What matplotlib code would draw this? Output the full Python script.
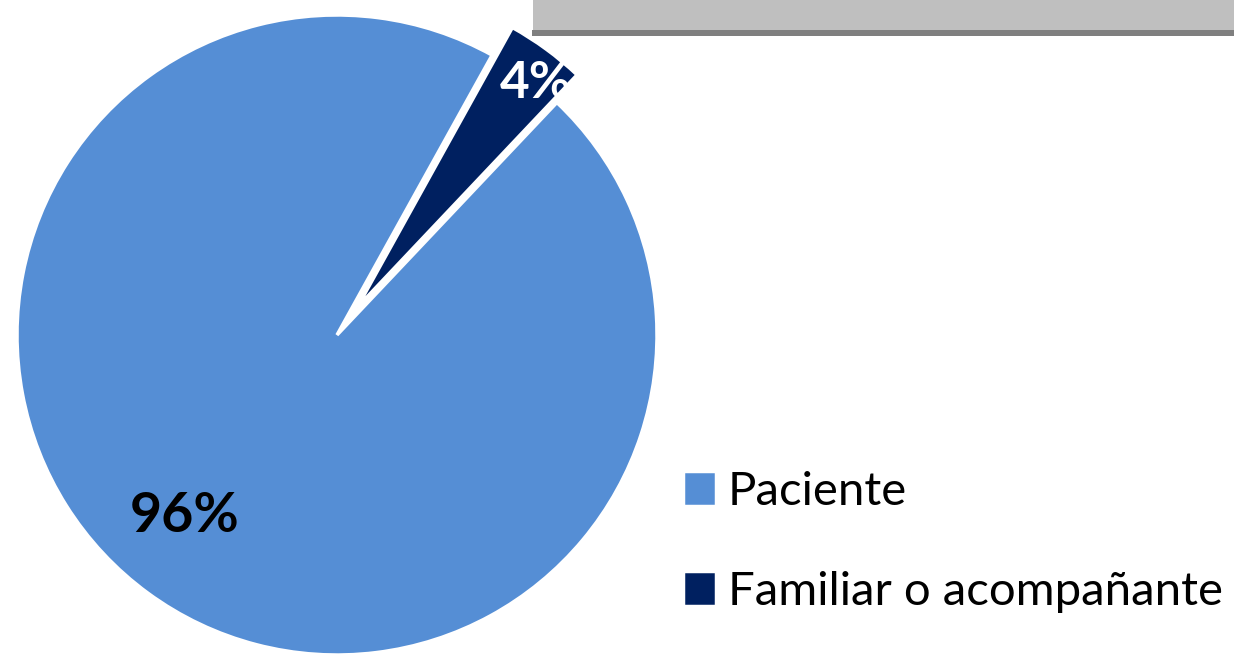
import numpy as np
import matplotlib.pyplot as plt
from matplotlib.patches import Rectangle

W, H = 1234, 658

labels = ['Paciente', 'Familiar o acompañante']
values = [96, 4]
colors = ['#558ED5', '#002060']
explode = [0, 0.107]
pct_colors = ['black', 'white']
pct_dist = [0.74, 0.895]
pct_turn = [-4, -2.3]   # small angular nudge of the labels, degrees

plt.rcParams['font.family'] = ['Lato', 'DejaVu Sans']

fig = plt.figure(figsize=(W / 100, H / 100), dpi=100)

# header bar at top right
fig.patches.append(Rectangle((533 / W, 1 - 30 / H), 1, 30 / H, transform=fig.transFigure,
                             facecolor='#BFBFBF', edgecolor='none', zorder=0))
fig.patches.append(Rectangle((532 / W, 1 - 36 / H), 1, 6 / H, transform=fig.transFigure,
                             facecolor='#7F7F7F', edgecolor='none', zorder=0))

ax = fig.add_axes([17 / W, 3 / H, 640 / W, 640 / H])
wedges, _ = ax.pie(values, colors=colors, explode=explode, startangle=61,
                   radius=1, wedgeprops=dict(edgecolor='white', linewidth=2.5))
for w in wedges:
    w.set_clip_on(False)
ax.set_xlim(-1, 1)
ax.set_ylim(-1, 1)
ax.set_aspect('equal')
ax.axis('off')

sizes = [40, 37]
for w, v, c, d, t, s in zip(wedges, values, pct_colors, pct_dist, pct_turn, sizes):
    mid = np.deg2rad((w.theta1 + w.theta2) / 2 + t)
    cx, cy = w.center
    ax.text(cx + d * np.cos(mid), cy + d * np.sin(mid), f'{v}%', color=c,
            fontsize=s, fontweight='bold', ha='center', va='center')

fig.legend(wedges, labels, loc='upper left', bbox_to_anchor=(683 / W, 1 - 471 / H),
           frameon=False, fontsize=34, handlelength=0.7, handleheight=0.75,
           handletextpad=0.25, labelspacing=1.23, borderpad=0, borderaxespad=0)

fig.savefig('out.png', dpi=100)
